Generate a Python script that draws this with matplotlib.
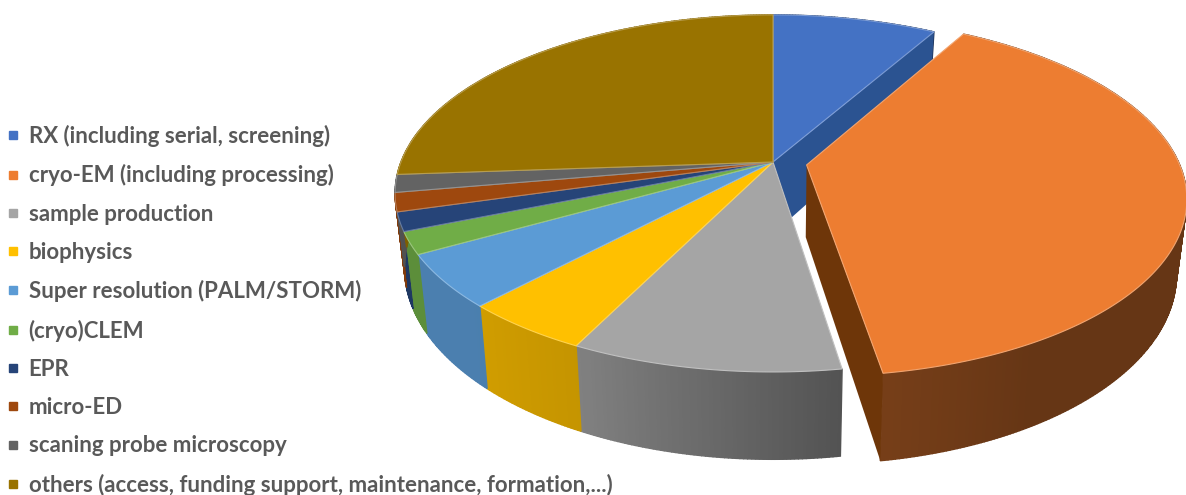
import numpy as np
import matplotlib
matplotlib.use("Agg")
import matplotlib.pyplot as plt
from matplotlib.lines import Line2D

# share of each slice, percent
labels = ['RX (including serial, screening)', 'cryo-EM (including processing)',
          'sample production', 'biophysics', 'Super resolution (PALM/STORM)',
          '(cryo)CLEM', 'EPR', 'micro-ED', 'scaning probe microscopy',
          'others (access, funding support, maintenance, formation,...)']
values = [8.3, 39.2, 9.8, 4.7, 4.8, 2.0, 1.7, 1.7, 1.6, 26.1]
colors = ['#4472C4', '#ED7D31', '#A5A5A5', '#FFC000', '#5B9BD5',
          '#70AD47', '#264478', '#9E480E', '#636363', '#997300']

## Geometry of the tilted disc, in pixels
cx, cy = 773, 162
A, B = 173, 372   # vertical and horizontal scale
k = 0.176         # perspective
D = 72            # thickness
squeeze = 0.975   # lower face is a bit narrower than the top
exploded = 1      # index of the pulled out slice
shift = (0.09, -0.017)


def project(ang, r=1.0, off=(0, 0), down=False):
    # ang is degrees clockwise from the top of the disc
    a = np.radians(ang)
    u = r * np.sin(a) + off[0]
    v = r * np.cos(a) + off[1]
    w = 1 + k * v
    x = B * u / w
    y = cy - A * v / w
    if down:
        x = x * squeeze
        y = y + D / w
    return cx + x, y


def shade(ang):
    # side walls get lighter towards the left of the front
    return np.interp(ang, [0, 150, 171, 205, 225, 360], [0.43, 0.43, 0.5, 0.77, 0.82, 0.82])


def darker(col, f):
    return tuple(c * f for c in matplotlib.colors.to_rgb(col))


def rim_wall(a0, a1, col, off, z):
    n = max(int((a1 - a0) * 2), 2)
    ts = np.linspace(a0, a1, n + 1)
    for t0, t1 in zip(ts[:-1], ts[1:]):
        x0, y0 = project(t0, off=off)
        x1, y1 = project(t1, off=off)
        x2, y2 = project(t1, off=off, down=True)
        x3, y3 = project(t0, off=off, down=True)
        c = darker(col, shade((t0 + t1) / 2))
        ax.fill([x0, x1, x2, x3], [y0, y1, y2, y3], facecolor=c, edgecolor=c, lw=1, zorder=z)


def cut_wall(ang, col, off, z):
    x0, y0 = project(ang, r=0, off=off)
    x1, y1 = project(ang, off=off)
    x2, y2 = project(ang, off=off, down=True)
    x3, y3 = project(ang, r=0, off=off, down=True)
    ax.fill([x0, x1, x2, x3], [y0, y1, y2, y3], color=col, lw=0, zorder=z)


def top_face(a0, a1, col, off, z):
    ts = np.linspace(a0, a1, max(int((a1 - a0) * 2), 2) + 1)
    xs, ys = project(ts, off=off)
    x0, y0 = project(a0, r=0, off=off)
    edge = tuple(c + (1 - c) * 0.3 for c in matplotlib.colors.to_rgb(col))
    ax.fill(np.r_[x0, xs], np.r_[y0, ys], facecolor=col, edgecolor=edge, lw=0.8,
            joinstyle='round', zorder=z)


fig = plt.figure(figsize=(11.86, 4.95), dpi=100)
ax = fig.add_axes([0, 0, 1, 1])
ax.set_xlim(0, 1186)
ax.set_ylim(495, 0)
ax.axis('off')

edges = np.r_[0, np.cumsum(values)] / np.sum(values) * 360

for i, col in enumerate(colors):
    a0, a1 = edges[i], edges[i + 1]
    if i == exploded:
        rim_wall(a0, a1, col, shift, 5)
        cut_wall(a1, '#6E3609', shift, 6)
        top_face(a0, a1, col, shift, 7)
    else:
        rim_wall(a0, a1, col, (0, 0), 1)
        if i == 0:
            cut_wall(a1, '#2B5391', (0, 0), 2)
        top_face(a0, a1, col, (0, 0), 3)

handles = [Line2D([], [], ls='none', marker='s', ms=5.5, mfc=c, mec=c) for c in colors]
ax.legend(handles, labels, loc='upper left', bbox_to_anchor=(-0.003, 0.77), frameon=False,
          prop={'family': 'Lato', 'size': 16, 'weight': 'bold'}, labelcolor='#595959',
          labelspacing=0.777, handlelength=0.5, handletextpad=0.45, borderpad=0, borderaxespad=0.5)

fig.savefig('out.png', dpi=100)
